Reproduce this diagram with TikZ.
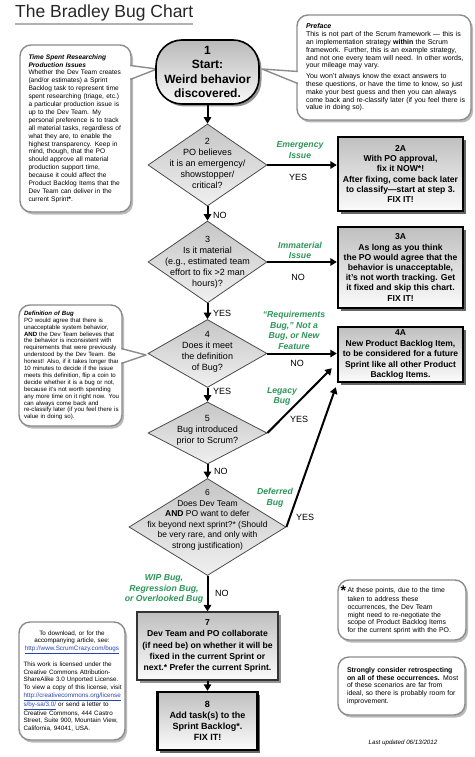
\documentclass[tikz,border=0pt]{standalone}
\usepackage{fontspec}
\setmainfont{Liberation Sans}
\usetikzlibrary{shapes.geometric,arrows.meta,shadows,calc}
\definecolor{lblgreen}{RGB}{46,150,90}
\definecolor{cbord}{RGB}{140,140,140}
\definecolor{linkblue}{RGB}{40,70,170}
\newcommand{\jline}[1]{\makebox[\linewidth][s]{#1}\par}
\newcommand{\lnk}[1]{\textcolor{linkblue}{\underline{#1}}}
\newcommand{\fsz}[2]{\fontsize{#1}{#2}\selectfont}
\tikzset{
  conn/.style={line width=2pt, -{Triangle[width=7.5pt,length=6.5pt]}},
  dia/.style={diamond, draw=black!70, line width=0.8pt, top color=gray!45, bottom color=gray!12, inner sep=0pt},
  dtxt/.style={align=center, font=\fsz{9}{11}, inner sep=0pt},
  fixbox/.style={rectangle, draw=black, line width=2.4pt, top color=gray!50, bottom color=gray!3,
    drop shadow={shadow xshift=2.5pt, shadow yshift=-2.5pt, fill=black!75, opacity=0.8},
    align=center, inner sep=0pt, font=\bfseries\fsz{8.6}{10.2}},
  plainbox/.style={rectangle, draw=black!80, line width=1.2pt, top color=gray!50, bottom color=gray!3,
    drop shadow={shadow xshift=2.5pt, shadow yshift=-2.5pt, fill=black!60, opacity=0.7},
    align=center, inner sep=0pt, font=\bfseries\fsz{8.6}{11.3}},
  startn/.style={rectangle, rounded corners=26pt, draw=black, line width=1.6pt, top color=gray!55, bottom color=gray!5,
    drop shadow={shadow xshift=2.5pt, shadow yshift=-2.5pt, fill=black!60, opacity=0.7},
    align=center, inner sep=0pt, font=\bfseries\fsz{12}{14.3}},
  callout/.style={rectangle, rounded corners=11pt, draw=cbord, line width=1.4pt, fill=white,
    drop shadow={shadow xshift=2pt, shadow yshift=-2.5pt, fill=black!45, opacity=0.6},
    inner sep=0pt, font=\fsz{6.6}{7.9}},
  wedge/.style={draw=cbord, line width=1.4pt, line join=round},
  yn/.style={font=\fsz{9}{10}, inner sep=0pt},
  gl/.style={font=\bfseries\itshape\fsz{8.7}{10.6}, text=lblgreen, align=center, inner sep=0pt}
}
\begin{document}
\begin{tikzpicture}[x=1pt,y=-1pt]
\path[use as bounding box, fill=white] (0,0) rectangle (474,757);

% title
\node[anchor=base west, inner sep=0pt, font=\fsz{17.5}{20}, text=black!85] (title) at (15,18) {The Bradley Bug Chart};
\draw[gray!60, line width=1.5pt] (15,24) -- (193,24);

% callouts
\node[callout, minimum width=111, minimum height=167, text width=94] (tl) at (75.5,128.5) {%
{\bfseries\itshape Time Spent Researching\par Production Issues\par}
\jline{Whether the Dev Team creates}
\jline{(and/or estimates) a Sprint}
\jline{Backlog task to represent time}
\jline{spent researching (triage, etc.)}
\jline{a particular production issue is}
\jline{up to the Dev Team. My}
\jline{personal preference is to track}
\jline{all material tasks, regardless of}
\jline{what they are, to enable the}
\jline{highest transparency. Keep in}
\jline{mind, though, that the PO}
\jline{should approve all material}
\jline{production support time,}
\jline{because it could affect the}
\jline{Product Backlog Items that the}
\jline{Dev Team can deliver in the}
current Sprint\textbf{*}.};

\node[callout, minimum width=174, minimum height=105, text width=156, font=\fsz{7}{7.8}] (pref) at (384,67.5) {%
{\bfseries\itshape Preface\par}
\jline{This is not part of the Scrum framework --- this is}
\jline{an implementation strategy \textbf{within} the Scrum}
\jline{framework. Further, this is an example strategy,}
\jline{and not one every team will need. In other words,}
your mileage may vary.\par
\vspace{3pt}
\jline{You won't always know the exact answers to}
\jline{these questions, or have the time to know, so just}
\jline{make your best guess and then you can always}
\jline{come back and re-classify later (if you feel there is}
value in doing so).};

\node[callout, minimum width=103, minimum height=121, text width=93, font=\fsz{6.1}{6.9}] (defb) at (70.5,365.5) {%
{\bfseries\itshape Definition of Bug\par}
\jline{PO would agree that there is}
\jline{unacceptable system behavior,}
\jline{\textbf{AND} the Dev Team believes that}
\jline{the behavior is inconsistent with}
\jline{requirements that were previously}
\jline{understood by the Dev Team. Be}
\jline{honest! Also, if it takes longer than}
\jline{10 minutes to decide if the issue}
\jline{meets this definition, flip a coin to}
\jline{decide whether it is a bug or not,}
\jline{because it's not worth spending}
\jline{any more time on it right now. You}
\jline{can always come back and}
\jline{re-classify later (if you feel there is}
value in doing so).};

\node[callout, minimum width=106, minimum height=118, text width=97, font=\fsz{6.3}{7.7}] (bl) at (72,681) {%
{\centering To download, or for the\\accompanying article, see:\\\lnk{http://www.ScrumCrazy.com/bugs}\par}
\vspace{7pt}
\jline{This work is licensed under the}
\jline{Creative Commons Attribution-}
\jline{ShareAlike 3.0 Unported License.}
\jline{To view a copy of this license, visit}
\lnk{http://creativecommons.org/license}\par
\jline{\lnk{s/by-sa/3.0/} or send a letter to}
\jline{Creative Commons, 444 Castro}
\jline{Street, Suite 900, Mountain View,}
California, 94041, USA.};

\node[callout, minimum width=128, minimum height=60, text width=109, font=\fsz{6.9}{7.7}] (star) at (402,610) {%
\jline{\llap{\raisebox{-3.5pt}{\fsz{14}{14}\bfseries *}\hspace{1.5pt}}At these points, due to the time}
\jline{taken to address these}
\jline{occurrences, the Dev Team}
\jline{might need to re-negotiate the}
\jline{scope of Product Backlog Items}
\jline{for the current sprint with the PO.}};

\node[callout, minimum width=127, minimum height=58, text width=109, font=\fsz{6.9}{7.75}] (strong) at (401.5,686) {%
\jline{\textbf{Strongly consider retrospecting}}
\jline{\textbf{on all of these occurrences.} Most}
\jline{of these scenarios are far from}
\jline{ideal, so there is probably room for}
improvement.};

\node[font=\itshape\fsz{6.2}{8}, inner sep=0pt] (upd) at (403,743) {Last updated 06/13/2012};

% callout pointers
\coordinate (tlA) at ($(tl.east)+(-1.5,-63)$);
\coordinate (tlB) at ($(tl.east)+(-1.5,-49)$);
\coordinate (tlT) at (157,69);
\fill[white] ($(tlA)+(-3,0)$) -- (tlT) -- ($(tlB)+(-3,0)$) -- cycle;
\draw[wedge] (tlA) -- (tlT) -- (tlB);

\coordinate (prA) at ($(pref.west)+(1.5,4)$);
\coordinate (prB) at ($(pref.west)+(1.5,16)$);
\coordinate (prT) at (262,69);
\fill[white] ($(prA)+(3,0)$) -- (prT) -- ($(prB)+(3,0)$) -- cycle;
\draw[wedge] (prA) -- (prT) -- (prB);

\coordinate (dfA) at ($(defb.east)+(-1.5,-17)$);
\coordinate (dfB) at ($(defb.east)+(-1.5,-2)$);
\coordinate (dfT) at (146,355);
\fill[white] ($(dfA)+(-3,0)$) -- (dfT) -- ($(dfB)+(-3,0)$) -- cycle;
\draw[wedge] (dfA) -- (dfT) -- (dfB);

% main nodes
\node[startn, minimum width=103, minimum height=64] (s1) at (207.5,72) {1\\Start:\\Weird behavior\\discovered.};

\node[dia, minimum width=119, minimum height=82] (d2) at (207.5,165) {};
\node[dtxt] (d2t) at (207.5,163) {2\\PO believes\\it is an emergency/\\showstopper/\\critical?};
\node[dia, minimum width=119, minimum height=82] (d3) at (207.5,262) {};
\node[dtxt] (d3t) at (207.5,262) {3\\Is it material\\(e.g., estimated team\\effort to fix >2 man\\hours)?};
\node[dia, minimum width=119, minimum height=68] (d4) at (207.5,353.5) {};
\node[dtxt] (d4t) at (207.5,352) {4\\Does it meet\\the definition\\of Bug?};
\node[dia, minimum width=119, minimum height=62] (d5) at (207.5,433) {};
\node[dtxt] (d5t) at (207.5,430) {5\\Bug introduced\\prior to Scrum?};
\node[dia, minimum width=157, minimum height=97] (d6) at (207.5,527) {};
\node[dtxt, font=\fsz{8.5}{10.6}] (d6t) at (207.5,520) {6\\Does Dev Team\\\textbf{AND} PO want to defer\\fix beyond next sprint?* (Should\\be very rare, and only with\\strong justification)};

\node[fixbox, minimum width=125, minimum height=74] (b2a) at (400.5,174) {2A\\With PO approval,\\fix it NOW*!\\After fixing, come back later\\to classify---start at step 3.\\FIX IT!};
\node[fixbox, minimum width=125, minimum height=81] (b3a) at (400.5,267.5) {3A\\As long as you think\\the PO would agree that the\\behavior is unacceptable,\\it's not worth tracking. Get\\it fixed and skip this chart.\\FIX IT!};
\node[fixbox, minimum width=125, minimum height=55, font=\bfseries\fsz{8.5}{10.5}] (b4a) at (400.5,354.5) {4A\\New Product Backlog Item,\\to be considered for a future\\Sprint like all other Product\\Backlog Items.};
\node[plainbox, minimum width=141, minimum height=68] (b7) at (207.5,646) {7\\Dev Team and PO collaborate\\(if need be) on whether it will be\\fixed in the current Sprint or\\next.* Prefer the current Sprint.};
\node[fixbox, minimum width=100, minimum height=58, font=\bfseries\fsz{9}{11}] (b8) at (207.5,721) {8\\Add task(s) to the\\Sprint Backlog*.\\FIX IT!};

% connectors
\draw[conn] (s1.south) -- (d2.north);
\draw[conn] (d2.south) -- (d3.north);
\draw[conn] (d3.south) -- (d4.north);
\draw[conn] (d4.south) -- (d5.north);
\draw[conn] (d5.south) -- (d6.north);
\draw[conn] (d6.south) -- (b7.north);
\draw[conn] (b7.south) -- (b8.north);
\draw[conn] (d2.east) -- (d2.east -| b2a.west);
\draw[conn] (d3.east) -- (d3.east -| b3a.west);
\draw[conn] (d4.east) -- (d4.east -| b4a.west);
\coordinate (t5) at ($(b4a.south west)+(-5,-15)$);
\coordinate (t6) at ($(b4a.south west)+(-1,4)$);
\draw[conn] (d5.east) -- (t5);
\draw[conn] (d6.east) -- (t6);

% labels
\node[gl] (g2) at (300,150) {Emergency\\Issue};
\node[yn] (y2) at (298,177) {YES};
\node[yn, anchor=west] (n2) at (213,215) {NO};
\node[gl] (g3) at (300,250.5) {Immaterial\\Issue};
\node[yn] (n3) at (298,277) {NO};
\node[yn, anchor=west] (y3) at (213,313) {YES};
\node[gl] (g4) at (294,330.5) {``Requirements\\Bug,'' Not a\\Bug, or New\\Feature};
\node[yn] (n4) at (297,363) {NO};
\node[yn, anchor=west] (y4) at (213,391) {YES};
\node[gl] (g5) at (282,396.5) {Legacy\\Bug};
\node[yn] (y5) at (299,419) {YES};
\node[yn, anchor=west] (n5) at (214,471) {NO};
\node[gl] (g6) at (275,497.5) {Deferred\\Bug};
\node[yn] (y6) at (305,517) {YES};
\node[gl] (g7) at (164,589) {WIP Bug,\\Regression Bug,\\or Overlooked Bug};
\node[yn, anchor=west] (n6) at (215,593) {NO};
\end{tikzpicture}
\end{document}
